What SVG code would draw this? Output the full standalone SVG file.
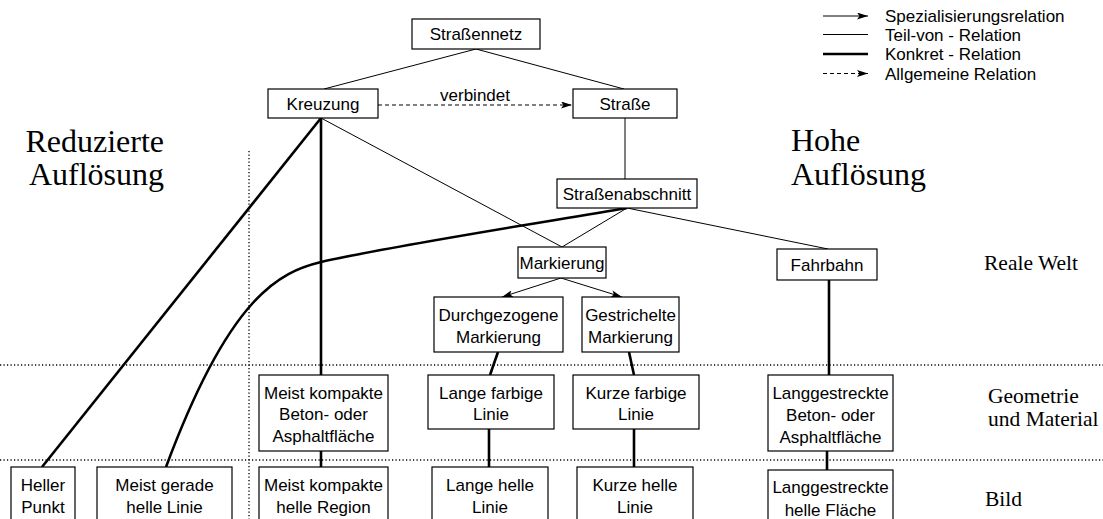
<svg xmlns="http://www.w3.org/2000/svg" width="1103" height="519" viewBox="0 0 1103 519">
<defs>
<marker id="arr" viewBox="0 0 11 7" refX="11" refY="3.5" markerWidth="11" markerHeight="7" markerUnits="userSpaceOnUse" orient="auto">
<path d="M0,0 L11,3.5 L0,7 L2.5,3.5 z" fill="#000"/>
</marker>
<style>
.box{fill:#fff;stroke:#000;stroke-width:1.2}
.t{font-family:"Liberation Sans",Arial,sans-serif;font-size:17px;fill:#000;text-anchor:middle}
.lg{font-family:"Liberation Sans",Arial,sans-serif;font-size:17px;fill:#000}
.big{font-family:"Liberation Serif","Times New Roman",serif;font-size:32px;fill:#000}
.lvl{font-family:"Liberation Serif","Times New Roman",serif;font-size:21.5px;fill:#000}
.thin{fill:none;stroke:#000;stroke-width:1}
.thick{fill:none;stroke:#000;stroke-width:2.6}
.spec{fill:none;stroke:#000;stroke-width:1;marker-end:url(#arr)}
.dash{fill:none;stroke:#000;stroke-width:1;stroke-dasharray:4 3;marker-end:url(#arr)}
.dot{fill:none;stroke:#000;stroke-width:1.3;stroke-dasharray:1.2 2.3}
</style>
</defs>
<rect width="1103" height="519" fill="#fff"/>

<g id="separators">
<line class="dot" x1="0" y1="365" x2="1103" y2="365"/>
<line class="dot" x1="0" y1="460" x2="1103" y2="460"/>
<line class="dot" x1="249" y1="151" x2="249" y2="519"/>
</g>

<g id="labels">
<text class="big" x="164" y="152" text-anchor="end">Reduzierte</text>
<text class="big" x="164" y="185" text-anchor="end">Auflösung</text>
<text class="big" x="791" y="151">Hohe</text>
<text class="big" x="791" y="185">Auflösung</text>
<text class="lvl" x="984" y="270">Reale Welt</text>
<text class="lvl" x="988" y="403">Geometrie</text>
<text class="lvl" x="988" y="426">und Material</text>
<text class="lvl" x="985" y="506">Bild</text>
</g>

<g id="legend">
<line class="spec" x1="823" y1="16" x2="868" y2="16"/>
<line class="thin" x1="823" y1="34.5" x2="868" y2="34.5"/>
<line class="thick" x1="823" y1="54" x2="868" y2="54" stroke-width="2.2"/>
<line class="dash" x1="823" y1="73.5" x2="868" y2="73.5"/>
<text class="lg" x="885" y="22">Spezialisierungsrelation</text>
<text class="lg" x="885" y="40.5">Teil-von - Relation</text>
<text class="lg" x="885" y="60">Konkret - Relation</text>
<text class="lg" x="885" y="79.5">Allgemeine Relation</text>
</g>

<g id="connectors">
<line class="thin" x1="476" y1="49" x2="324" y2="89"/>
<line class="thin" x1="476" y1="49" x2="624" y2="89"/>
<line class="dash" x1="378" y1="105" x2="572" y2="105"/>
<text class="t" x="475" y="101">verbindet</text>
<line class="thin" x1="625" y1="118" x2="625" y2="179"/>
<line class="thin" x1="321" y1="118" x2="562" y2="247"/>
<line class="thin" x1="627" y1="208" x2="562" y2="247"/>
<line class="thin" x1="627" y1="208" x2="828" y2="249"/>
<line class="spec" x1="561" y1="278" x2="502" y2="297"/>
<line class="spec" x1="561" y1="278" x2="622" y2="297"/>
<line class="thick" x1="321" y1="118" x2="321" y2="375"/>
<line class="thick" x1="321" y1="118" x2="42" y2="467"/>
<path class="thick" d="M627,208 C520,226 380,248 321,262 C280,272 230,295 166,467"/>
<line class="thick" x1="498" y1="352" x2="490" y2="375"/>
<line class="thick" x1="629" y1="352" x2="634" y2="375"/>
<line class="thick" x1="829" y1="280" x2="829" y2="375"/>
<line class="thick" x1="321" y1="451" x2="321" y2="467"/>
<line class="thick" x1="489" y1="429" x2="489" y2="467"/>
<line class="thick" x1="634" y1="429" x2="634" y2="467"/>
<line class="thick" x1="827" y1="451" x2="827" y2="470"/>
</g>

<g id="n-strassennetz"><rect class="box" x="412" y="19" width="128" height="30"/><text class="t" x="476" y="40">Straßennetz</text></g>
<g id="n-kreuzung"><rect class="box" x="268" y="89" width="110" height="29"/><text class="t" x="323" y="110">Kreuzung</text></g>
<g id="n-strasse"><rect class="box" x="573" y="89" width="104" height="29"/><text class="t" x="625" y="110">Straße</text></g>
<g id="n-strassenabschnitt"><rect class="box" x="557" y="179" width="140" height="29"/><text class="t" x="627" y="200">Straßenabschnitt</text></g>
<g id="n-markierung"><rect class="box" x="518" y="247" width="88" height="31"/><text class="t" x="562" y="269">Markierung</text></g>
<g id="n-fahrbahn"><rect class="box" x="777" y="249" width="100" height="31"/><text class="t" x="827" y="271">Fahrbahn</text></g>
<g id="n-durchgezogen"><rect class="box" x="434" y="297" width="129" height="55"/><text class="t" x="498.5" y="321">Durchgezogene</text><text class="t" x="498.5" y="343">Markierung</text></g>
<g id="n-gestrichelt"><rect class="box" x="582" y="297" width="97" height="55"/><text class="t" x="630.5" y="321">Gestrichelte</text><text class="t" x="630.5" y="343">Markierung</text></g>

<g id="n-kompakt-geo"><rect class="box" x="259" y="375" width="129" height="76"/><text class="t" x="323.5" y="399">Meist kompakte</text><text class="t" x="323.5" y="420">Beton- oder</text><text class="t" x="323.5" y="442">Asphaltfläche</text></g>
<g id="n-lange-farbig"><rect class="box" x="428" y="375" width="126" height="54"/><text class="t" x="491" y="399">Lange farbige</text><text class="t" x="491" y="420">Linie</text></g>
<g id="n-kurze-farbig"><rect class="box" x="573" y="375" width="126" height="54"/><text class="t" x="636" y="399">Kurze farbige</text><text class="t" x="636" y="420">Linie</text></g>
<g id="n-langgestreckt-geo"><rect class="box" x="768" y="375" width="125" height="76"/><text class="t" x="830.5" y="399">Langgestreckte</text><text class="t" x="830.5" y="421">Beton- oder</text><text class="t" x="830.5" y="443">Asphaltfläche</text></g>

<g id="n-heller-punkt"><rect class="box" x="11" y="467" width="64" height="60"/><text class="t" x="43" y="491">Heller</text><text class="t" x="43" y="513">Punkt</text></g>
<g id="n-meist-gerade"><rect class="box" x="97" y="467" width="135" height="60"/><text class="t" x="164.5" y="491">Meist gerade</text><text class="t" x="164.5" y="513">helle Linie</text></g>
<g id="n-kompakt-bild"><rect class="box" x="259" y="467" width="129" height="60"/><text class="t" x="323.5" y="491">Meist kompakte</text><text class="t" x="323.5" y="513">helle Region</text></g>
<g id="n-lange-hell"><rect class="box" x="432" y="467" width="116" height="60"/><text class="t" x="490" y="491">Lange helle</text><text class="t" x="490" y="513">Linie</text></g>
<g id="n-kurze-hell"><rect class="box" x="577" y="467" width="116" height="60"/><text class="t" x="635" y="491">Kurze helle</text><text class="t" x="635" y="513">Linie</text></g>
<g id="n-langgestreckt-bild"><rect class="box" x="768" y="470" width="125" height="60"/><text class="t" x="830.5" y="493">Langgestreckte</text><text class="t" x="830.5" y="516">helle Fläche</text></g>
</svg>
